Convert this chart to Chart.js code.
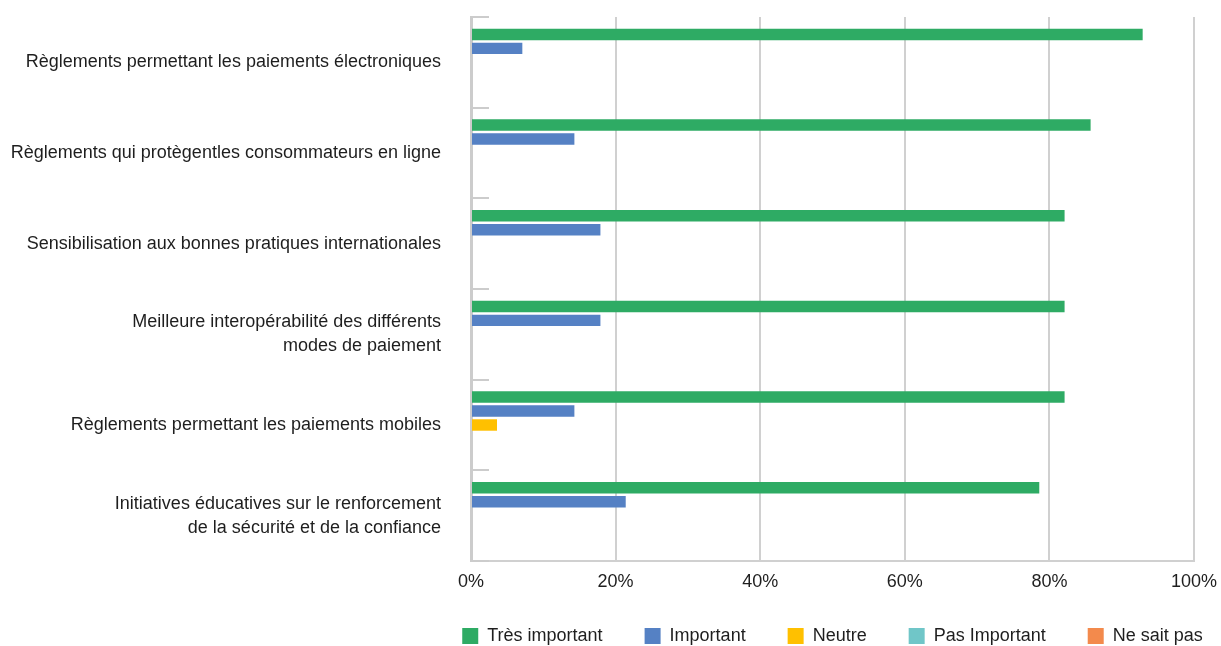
<!DOCTYPE html>
<html><head><meta charset="utf-8">
<style>html,body{margin:0;padding:0;background:#fff}#w{width:1221px;height:646px}</style>
<script src="https://cdn.jsdelivr.net/npm/chart.js@4/dist/chart.umd.min.js"></script>
</head><body><div id="w"><canvas id="c"></canvas></div>
<script>
const categories = [
  "Règlements permettant les paiements électroniques",
  "Règlements qui protègentles consommateurs en ligne",
  "Sensibilisation aux bonnes pratiques internationales",
  ["Meilleure interopérabilité des différents", "modes de paiement"],
  "Règlements permettant les paiements mobiles",
  ["Initiatives éducatives sur le renforcement", "de la sécurité et de la confiance"]
];
const seriesNames = ["Très important", "Important", "Neutre", "Pas Important", "Ne sait pas"];
const tresImportant = [92.9, 85.7, 82.1, 82.1, 82.1, 78.6];
const important = [7.1, 14.3, 17.9, 17.9, 14.3, 21.4];
const neutre = [0, 0, 0, 0, 3.6, 0];
const pasImportant = [0, 0, 0, 0, 0, 0];
const neSaitPas = [0, 0, 0, 0, 0, 0];
const xTicks = [0, 20, 40, 60, 80, 100];

const colors = ["#2EAB64", "#5581C4", "#FFC000", "#70C6C8", "#F38A4C"];
const FONT = "'Liberation Sans', Arial, sans-serif";
const TXT = "#1e1e1e";

const catTicks = {
  id: 'catTicks',
  beforeDatasetsDraw(chart) {
    const y = chart.scales.y, ctx = chart.ctx, ca = chart.chartArea;
    const n = y.ticks.length;
    const step = y.getPixelForValue(1) - y.getPixelForValue(0);
    ctx.save();
    ctx.strokeStyle = "#cccccc"; ctx.lineWidth = 2;
    for (let i = 0; i <= n; i++) {
      const py = Math.round(y.getPixelForValue(i) - step / 2);
      ctx.beginPath(); ctx.moveTo(ca.left, py); ctx.lineTo(ca.left + 18, py); ctx.stroke();
    }
    ctx.restore();
  }
};

// centre the legend row under the plot area and nudge it vertically
const legendShift = {
  id: 'legendShift',
  afterLayout(chart) {
    const lg = chart.legend, ca = chart.chartArea;
    if (!lg) return;
    const dx = (ca.left + ca.right) / 2 - (lg.left + lg.right) / 2;
    lg.left += dx; lg.right += dx;
    lg.top -= 8; lg.bottom -= 8;
  }
};

const data = [tresImportant, important, neutre, pasImportant, neSaitPas];
new Chart(document.getElementById('c'), {
  type: 'bar',
  data: {
    labels: categories,
    datasets: seriesNames.map((n, i) => ({
      label: n, data: data[i], backgroundColor: colors[i],
      categoryPercentage: 0.77, barPercentage: 0.82
    }))
  },
  options: {
    indexAxis: 'y', responsive: true, maintainAspectRatio: false, animation: false,
    layout: { padding: { top: 17, right: 27, left: 0, bottom: -17 } },
    plugins: {
      tooltip: { enabled: false },
      legend: {
        position: 'bottom', fullSize: true,
        labels: { boxWidth: 16, boxHeight: 16, padding: 42, color: TXT,
          font: { family: FONT, size: 18 } }
      }
    },
    scales: {
      x: {
        min: 0, max: 100,
        afterBuildTicks: s => { s.ticks = xTicks.map(v => ({ value: v })); },
        afterFit: s => { s.height = 32; s.paddingLeft = 0; s.paddingRight = 0; },
        ticks: { callback: v => v + '%', color: TXT, padding: 10, font: { family: FONT, size: 18 } },
        grid: { color: "#d0d0d0", lineWidth: 2, drawTicks: false },
        border: { display: true, color: "#d0d0d0", width: 2 }
      },
      y: {
        afterFit: s => { s.width = 471; s.paddingTop = 0; s.paddingBottom = 0; },
        ticks: { color: TXT, padding: 30, font: { family: FONT, size: 18, lineHeight: 1.33 } },
        grid: { drawOnChartArea: false, drawTicks: false },
        border: { display: true, color: "#cccccc", width: 3 }
      }
    }
  },
  plugins: [catTicks, legendShift]
});
</script></body></html>
